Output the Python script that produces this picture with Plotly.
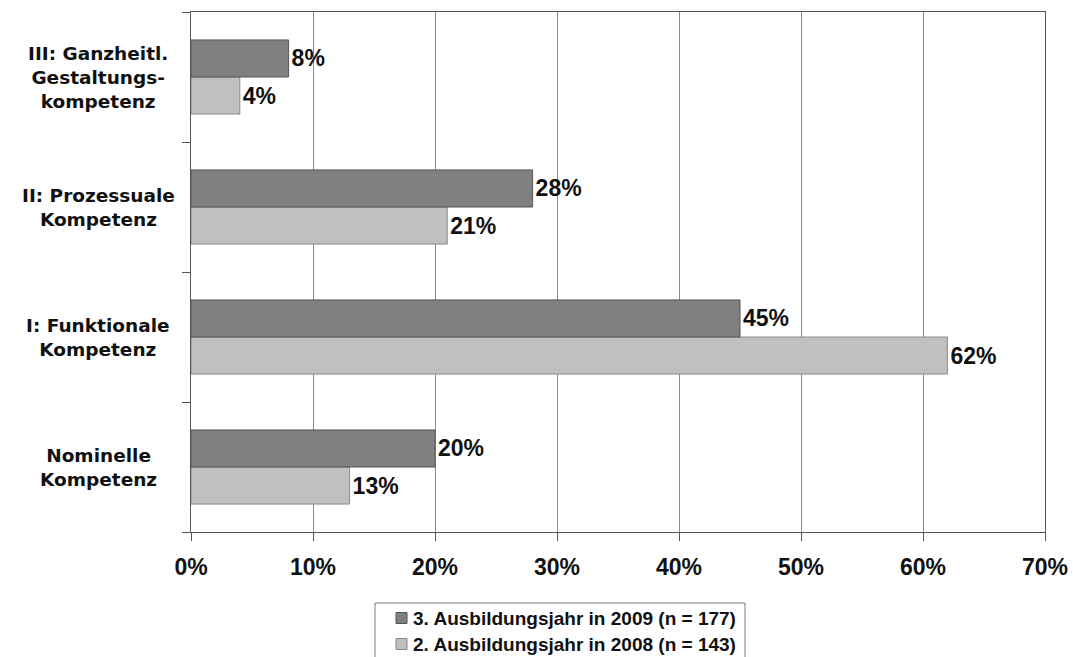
import plotly.graph_objects as go

# Kompetenzstufen (von unten nach oben)
categories = [
    "Nominelle Kompetenz",
    "I: Funktionale Kompetenz",
    "II: Prozessuale Kompetenz",
    "III: Ganzheitl. Gestaltungskompetenz",
]
category_labels = [
    "Nominelle<br>Kompetenz",
    "I: Funktionale<br>Kompetenz",
    "II: Prozessuale<br>Kompetenz",
    "III: Ganzheitl.<br>Gestaltungs-<br>kompetenz",
]
values_2009 = [20, 45, 28, 8]   # 3. Ausbildungsjahr in 2009 (n = 177)
values_2008 = [13, 62, 21, 4]   # 2. Ausbildungsjahr in 2008 (n = 143)
series_names = ["3. Ausbildungsjahr in 2009 (n = 177)",
                "2. Ausbildungsjahr in 2008 (n = 143)"]
x_ticks = [0, 10, 20, 30, 40, 50, 60, 70]
x_tick_labels = [f"{v}%" for v in x_ticks]

FONT = "Liberation Sans, Arial, sans-serif"
LABEL_FONT = "DejaVu Sans, Liberation Sans, sans-serif"
DARK, DARK_EDGE = "#808080", "#555555"
LIGHT, LIGHT_EDGE = "#c0c0c0", "#8a8a8a"

# Figure geometry (pixels)
W, H = 1073, 657
ML, MR, MT, MB = 191, 28, 12, 125
PW, PH = W - ML - MR, H - MT - MB


def px_x(px):
    return (px - ML) / PW


def px_y(py):
    return (H - MB - py) / PH


fig = go.Figure()

# 2008 first so that it sits below the 2009 bar in each group
fig.add_trace(go.Bar(
    y=categories, x=values_2008, orientation="h", name=series_names[1],
    marker=dict(color=LIGHT, line=dict(color=LIGHT_EDGE, width=1)),
    text=[f"{v}%" for v in values_2008], textposition="outside",
    textfont=dict(family=FONT, size=23, color="#111", weight="bold"),
    cliponaxis=False, showlegend=False,
))
fig.add_trace(go.Bar(
    y=categories, x=values_2009, orientation="h", name=series_names[0],
    marker=dict(color=DARK, line=dict(color=DARK_EDGE, width=1)),
    text=[f"{v}%" for v in values_2009], textposition="outside",
    textfont=dict(family=FONT, size=23, color="#111", weight="bold"),
    cliponaxis=False, showlegend=False,
))

# Category labels, centred line by line
for cat, lab in zip(categories, category_labels):
    fig.add_annotation(
        x=px_x(98), xref="paper", y=cat, yref="y",
        text=lab, showarrow=False, xanchor="center", yanchor="middle",
        align="center",
        font=dict(family=LABEL_FONT, size=18.5, color="#111", weight="bold"),
    )

# Legend box below the chart (runs off the bottom edge)
shapes = [dict(
    type="rect", xref="paper", yref="paper",
    x0=px_x(375), x1=px_x(745), y0=px_y(603), y1=px_y(700),
    line=dict(color="#7f7f7f", width=1), fillcolor="white", layer="above",
)]
for i, (name, fill, edge) in enumerate(zip(series_names, [DARK, LIGHT],
                                           [DARK_EDGE, LIGHT_EDGE])):
    cy = 618 + 26 * i
    shapes.append(dict(
        type="rect", xref="paper", yref="paper",
        x0=px_x(396), x1=px_x(407), y0=px_y(cy - 5.5), y1=px_y(cy + 5.5),
        line=dict(color=edge, width=1), fillcolor=fill, layer="above",
    ))
    fig.add_annotation(
        x=px_x(411), xref="paper", y=px_y(cy), yref="paper",
        text=name, showarrow=False, xanchor="left", yanchor="middle",
        font=dict(family=FONT, size=19, color="#111", weight="bold"),
    )

fig.update_layout(
    width=W, height=H,
    margin=dict(l=ML, r=MR, t=MT, b=MB),
    paper_bgcolor="white", plot_bgcolor="white",
    barmode="group", bargap=0.43, bargroupgap=0,
    showlegend=False,
    shapes=shapes,
    xaxis=dict(
        range=[0, 70], tickvals=x_ticks, ticktext=x_tick_labels,
        showgrid=True, gridcolor="#8c8c8c", gridwidth=1,
        showline=True, linecolor="#555555", linewidth=1, mirror=True,
        ticks="outside", ticklen=8, tickcolor="#555555",
        ticklabelstandoff=6,
        tickfont=dict(family=FONT, size=23, color="#111", weight="bold"),
        zeroline=False, fixedrange=True, automargin=False,
    ),
    yaxis=dict(
        type="category", categoryorder="array", categoryarray=categories,
        showticklabels=False, tickson="boundaries",
        ticks="outside", ticklen=8, tickcolor="#555555",
        showline=True, linecolor="#555555", linewidth=1, mirror=True,
        showgrid=False, fixedrange=True, automargin=False,
    ),
)

fig.write_html("out.html")
